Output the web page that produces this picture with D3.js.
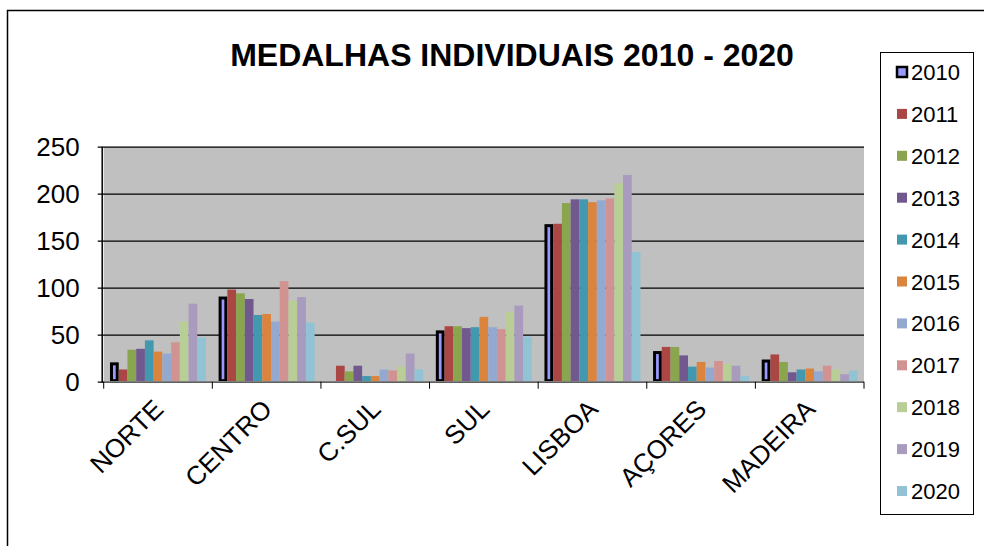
<!DOCTYPE html>
<html>
<head>
<meta charset="utf-8">
<script src="https://cdn.jsdelivr.net/npm/d3@7"></script>
<style>
  body { margin: 0; background: #fff; }
  text { font-family: "Liberation Sans", Arial, sans-serif; }
</style>
</head>
<body>
<div id="chart"></div>
<script>
// regions on the x axis
var categories = ["NORTE", "CENTRO", "C.SUL", "SUL", "LISBOA", "AÇORES", "MADEIRA"];
var years = ["2010", "2011", "2012", "2013", "2014", "2015", "2016", "2017", "2018", "2019", "2020"];

// medals per year, one value per region
var v2010 = [19, 89, 0, 53, 166, 31, 22];
var v2011 = [13, 98, 17, 59, 168, 37, 29];
var v2012 = [34, 94, 11, 59, 190, 37, 21];
var v2013 = [35, 88, 17, 57, 194, 28, 10];
var v2014 = [44, 71, 6, 58, 194, 16, 13];
var v2015 = [32, 72, 6, 69, 191, 21, 14];
var v2016 = [30, 64, 13, 58, 193, 15, 11];
var v2017 = [42, 107, 12, 56, 195, 22, 17];
var v2018 = [64, 86, 16, 74, 211, 19, 13];
var v2019 = [83, 90, 30, 81, 220, 17, 8];
var v2020 = [47, 63, 13, 48, 138, 6, 12];

var yTicks = [0, 50, 100, 150, 200, 250];

var series = [v2010, v2011, v2012, v2013, v2014, v2015, v2016, v2017, v2018, v2019, v2020];
var colors = ["#9999FF", "#AA4643", "#89A54E", "#71588F", "#4198AF", "#DB843D",
              "#93A9CF", "#D19392", "#B9CD96", "#A99BBD", "#92C3D4"];

var W = 984, H = 546;
var margin = {top: 146.7, right: 120, bottom: 164.3, left: 103.7},
    width = 864 - margin.left,
    height = 381.7 - margin.top;

var svg = d3.select("#chart")
  .append("svg")
    .attr("width", W)
    .attr("height", H);

// chart frame
svg.append("rect")
  .attr("x", 7.5).attr("y", 10.5)
  .attr("width", W + 20).attr("height", H + 20)
  .attr("fill", "none")
  .attr("stroke", "#000")
  .attr("stroke-width", 1.5);

// title
svg.append("text")
  .attr("x", 512)
  .attr("y", 66)
  .attr("text-anchor", "middle")
  .style("font-size", "32px")
  .style("font-weight", "bold")
  .text("MEDALHAS INDIVIDUAIS 2010 - 2020");

var g = svg.append("g")
  .attr("transform", "translate(" + margin.left + "," + margin.top + ")");

var x0 = d3.scaleBand()
  .domain(categories)
  .range([0, width])
  .paddingInner(0.116)
  .paddingOuter(0.058);

var x1 = d3.scaleBand()
  .domain(years)
  .range([0, x0.bandwidth()])
  .padding(0);

var y = d3.scaleLinear()
  .domain([0, 250])
  .range([height, 0]);

// plot area
g.append("rect")
  .attr("x", 0).attr("y", 0)
  .attr("width", width).attr("height", height)
  .attr("fill", "#C0C0C0");

// gridlines + y axis
var yAxis = g.append("g")
  .call(d3.axisLeft(y).tickValues(yTicks).tickSize(-width).tickPadding(24))
  .call(function(a) { a.select(".domain").remove(); });
yAxis.selectAll(".tick line")
  .attr("x1", -6)
  .attr("stroke", "#000")
  .attr("stroke-width", 1.2);
yAxis.selectAll(".tick text")
  .style("font-size", "26px")
  .style("font-family", "'Liberation Sans', Arial, sans-serif")
  .attr("fill", "#000");

g.append("line")
  .attr("x1", -1.5).attr("x2", -1.5)
  .attr("y1", 0).attr("y2", height + 1)
  .attr("stroke", "#000")
  .attr("stroke-width", 1.5);

// bars
var groups = g.selectAll(".cat")
  .data(categories)
  .enter().append("g")
    .attr("class", "cat")
    .attr("transform", function(d) { return "translate(" + x0(d) + ",0)"; });

groups.selectAll("rect")
  .data(function(d, i) {
    return years.map(function(yr, j) { return {year: yr, j: j, value: series[j][i]}; });
  })
  .enter().append("rect")
    .filter(function(d) { return d.value > 0; })
    .attr("x", function(d) { return x1(d.year); })
    .attr("y", function(d) { return y(d.value); })
    .attr("width", x1.bandwidth())
    .attr("height", function(d) { return height - y(d.value); })
    .attr("fill", function(d) { return colors[d.j]; });

// 2010 bars have a thick black outline
groups.selectAll("rect")
  .filter(function(d) { return d.j === 0; })
  .attr("x", function(d) { return x1(d.year) + 1.5; })
  .attr("width", x1.bandwidth() - 3)
  .attr("height", function(d) { return height - y(d.value) - 1; })
  .attr("stroke", "#000")
  .attr("stroke-width", 3);

// x axis
var xAxis = g.append("g")
  .attr("transform", "translate(0," + height + ")");
xAxis.append("line")
  .attr("x1", 0).attr("x2", width)
  .attr("stroke", "#808080")
  .attr("stroke-width", 1.5);
var bounds = categories.map(function(c) { return x0(c) - x0.step() * x0.paddingInner() / 2; });
bounds.push(width);
xAxis.selectAll(".xt")
  .data(bounds)
  .enter().append("line")
    .attr("x1", function(d) { return d; })
    .attr("x2", function(d) { return d; })
    .attr("y1", 0).attr("y2", 7)
    .attr("stroke", "#000");

xAxis.selectAll(".xl")
  .data(categories)
  .enter().append("text")
    .attr("transform", function(d) {
      return "translate(" + (x0(d) + x0.bandwidth() / 2 + 7) + ",29) rotate(-45)";
    })
    .attr("text-anchor", "end")
    .style("font-size", "26px")
    .text(function(d) { return d; });

// legend
var legend = svg.append("g");
legend.append("rect")
  .attr("x", 880.5).attr("y", 52.5)
  .attr("width", 93).attr("height", 462)
  .attr("fill", "#fff")
  .attr("stroke", "#000")
  .attr("stroke-width", 1);

var items = legend.selectAll(".item")
  .data(years)
  .enter().append("g")
    .attr("transform", function(d, i) { return "translate(897," + (72 + i * 41.9) + ")"; });

items.append("rect")
  .attr("x", 0).attr("y", -5)
  .attr("width", 10).attr("height", 10)
  .attr("fill", function(d, i) { return colors[i]; })
  .attr("stroke", function(d, i) { return i === 0 ? "#000" : "none"; })
  .attr("stroke-width", 2.5);

items.append("text")
  .attr("x", 14)
  .attr("y", 8)
  .style("font-size", "22px")
  .text(function(d) { return d; });
</script>
</body>
</html>
